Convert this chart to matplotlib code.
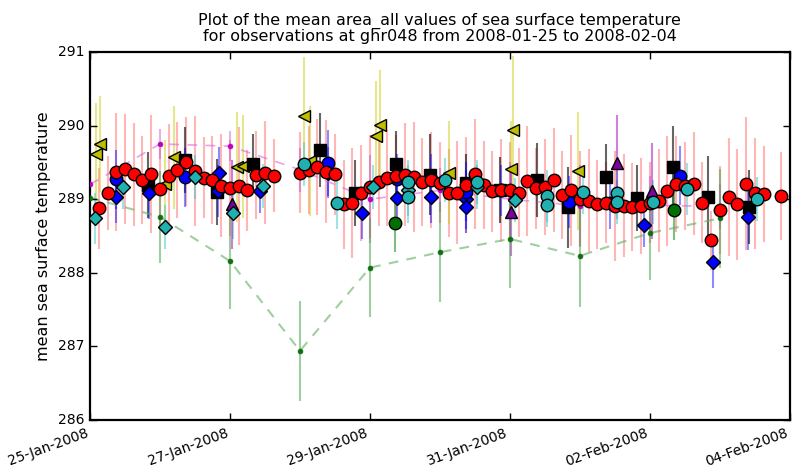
import matplotlib
matplotlib.use('Agg')
import matplotlib.pyplot as plt
import matplotlib.dates as mdates
from datetime import datetime, timedelta

# ---------------- data (hours after 2008-01-25 00:00, temperature K, error) ----------------
red_hours = [3, 6, 9, 12, 15, 18, 21, 24, 27, 30, 33, 36, 39, 42, 45, 48, 51, 54, 57, 60, 63,
             72, 75, 78, 81, 84, 87, 90, 93, 96, 99, 102, 105, 108, 111, 114, 117, 120, 123, 126,
             129, 132, 135, 138, 141, 144, 147, 150, 153, 156, 159, 162, 165, 168, 171, 174, 177,
             180, 183, 186, 189, 192, 195, 198, 201, 204, 207, 210, 213, 216, 219, 222, 225, 228,
             231, 237]
red_temp = [288.88, 289.08, 289.37, 289.41, 289.34, 289.26, 289.34, 289.14, 289.32, 289.40, 289.51,
            289.38, 289.29, 289.26, 289.18, 289.15, 289.18, 289.12, 289.33, 289.36, 289.32,
            289.36, 289.40, 289.44, 289.37, 289.34, 288.93, 288.95, 289.08, 289.17, 289.23, 289.29,
            289.32, 289.33, 289.30, 289.23, 289.26, 289.22, 289.08, 289.09, 289.19, 289.34, 289.19,
            289.11, 289.12, 289.12, 289.09, 289.25, 289.15, 289.17, 289.26, 289.06, 289.12, 289.00,
            288.98, 288.93, 288.95, 288.91, 288.91, 288.89, 288.91, 288.95, 288.98, 289.11, 289.21,
            289.18, 289.21, 288.95, 288.44, 288.85, 289.03, 288.93, 289.21, 289.08, 289.07, 289.04]
red_err = [0.55, 0.50, 0.80, 0.75, 0.70, 0.60, 0.80, 0.55, 0.70, 0.65, 0.60, 0.75, 0.55, 0.60, 0.70,
           0.65, 0.80, 0.55, 0.60, 0.70, 0.50, 0.55, 0.60, 0.65, 0.70, 0.55, 0.60, 0.75, 0.65, 0.70,
           0.60, 0.65, 0.55, 0.70, 0.75, 0.60, 0.65, 0.55, 0.60, 0.70, 0.65, 0.75, 0.60, 0.55, 0.70,
           0.65, 0.60, 0.75, 0.55, 0.65, 0.70, 0.60, 0.75, 0.65, 0.70, 0.60, 0.55, 0.75, 0.70, 0.60,
           0.65, 0.55, 0.70, 0.75, 0.65, 0.60, 0.70, 0.55, 0.40, 0.60, 0.80, 0.75, 0.90, 0.75, 0.65, 0.60]

black_hours = [20, 32.6, 43.5, 56, 79, 91, 105, 116.6, 129, 140.6, 153.3, 164, 177, 187.5, 200, 212, 226]
black_temp = [289.19, 289.53, 289.10, 289.48, 289.67, 289.08, 289.48, 289.33, 289.22, 289.12,
              289.26, 288.89, 289.30, 289.02, 289.44, 289.03, 288.89]
black_err = [0.45, 0.45, 0.45, 0.40, 0.50, 0.45, 0.45, 0.55, 0.40, 0.45, 0.50, 0.55, 0.45, 0.45,
             0.55, 0.55, 0.50]

blue_d_hours = [8.9, 20.2, 44.2, 43.9, 58.3, 81.6, 93.3, 105.3, 116.9, 128.9, 128.9, 190, 213.6, 225.6]
blue_d_temp = [289.03, 289.08, 289.36, 289.11, 289.11, 289.36, 288.81, 289.02, 289.03, 289.00,
               288.89, 288.65, 288.15, 288.76]
blue_d_err = [0.35, 0.35, 0.35, 0.35, 0.30, 0.35, 0.35, 0.30, 0.35, 0.40, 0.35, 0.30, 0.35, 0.45]

blue_c_hours = [8.9, 32.6, 81.6, 105.3, 116.9, 128.9, 140.9, 164.2, 178.3, 202.3]
blue_c_temp = [289.27, 289.30, 289.49, 289.27, 289.27, 289.10, 289.12, 288.96, 288.95, 289.32]
blue_c_err = [0.40, 0.40, 0.45, 0.35, 0.35, 0.40, 0.35, 0.35, 0.35, 0.40]

cyan_d_hours = [1.7, 11.3, 25.7, 36, 49, 59.3, 97, 109, 132.7, 145.7]
cyan_d_temp = [288.74, 289.17, 288.62, 289.30, 288.81, 289.18, 289.17, 289.12, 289.17, 288.99]
cyan_d_err = [0.35, 0.30, 0.30, 0.30, 0.35, 0.30, 0.30, 0.35, 0.30, 0.30]

cyan_c_hours = [73.4, 84.7, 109, 109, 121.7, 132.7, 156.7, 156.7, 169, 180.7, 180.7, 193, 204.7, 228.7]
cyan_c_temp = [289.48, 288.95, 289.23, 289.03, 289.26, 289.23, 289.04, 288.92, 289.10, 289.08,
               288.96, 288.96, 289.14, 289.00]
cyan_c_err = [0.30, 0.35, 0.30, 0.35, 0.30, 0.30, 0.35, 0.30, 0.30, 0.35, 0.30, 0.30, 0.35, 0.30]

yellow_hours = [2.1, 3.4, 25.7, 28.8, 50.4, 52.5, 73.4, 75.4, 98.1, 99.4, 123.1, 144.4, 145, 167.3]
yellow_temp = [289.61, 289.75, 289.21, 289.57, 289.44, 289.45, 290.13, 289.52, 289.86, 290.01,
               289.36, 289.41, 289.94, 289.38]
yellow_err = [0.70, 0.65, 0.60, 0.70, 0.75, 0.70, 0.80, 0.75, 0.75, 0.75, 0.70, 0.65, 1.00, 0.80]

purple_hours = [48.7, 144.4, 180.7, 192.7]
purple_temp = [288.93, 288.83, 289.49, 289.11]
purple_err = [0.60, 0.60, 0.65, 0.65]

dkgreen_hours = [104.6, 200.2]
dkgreen_temp = [288.68, 288.85]
dkgreen_err = [0.40, 0.40]

green_hours = [0, 24, 48, 72, 96, 120, 144, 168, 192, 216]
green_temp = [289.02, 288.76, 288.16, 286.94, 288.07, 288.28, 288.46, 288.23, 288.54, 288.74]
green_err = [0.35, 0.62, 0.65, 0.68, 0.67, 0.68, 0.67, 0.70, 0.64, 0.67]

magenta_hours = [0, 24, 48, 72, 96, 120, 144, 168, 192, 216]
magenta_temp = [289.20, 289.75, 289.72, 289.40, 289.00, 289.12, 289.00, 288.91, 288.92, 288.90]
magenta_err = [0.25, 0.20, 0.20, 0.30, 0.60, 0.30, 0.50, 0.55, 0.40, 0.30]

tick_labels = ['25-Jan-2008', '27-Jan-2008', '29-Jan-2008', '31-Jan-2008', '02-Feb-2008', '04-Feb-2008']
y_ticks = [286, 287, 288, 289, 290, 291]

TITLE = ('Plot of the mean area_all values of sea surface temperature\n'
         'for observations at ghr048 from 2008-01-25 to 2008-02-04')

# ---------------- drawing ----------------
plt.style.use('classic')
plt.rcParams['font.family'] = ['DejaVu Sans']

START = datetime(2008, 1, 25)


def t(hours):
    return [START + timedelta(hours=h) for h in hours]


fig = plt.figure(figsize=(7.93, 4.72), dpi=100)
fig.patch.set_facecolor('white')
ax = fig.add_axes([0.1135, 0.110, 0.8825, 0.780])


def bars(hours, temps, errs, color, alpha, lw=1.5, z=1):
    ax.errorbar(t(hours), temps, yerr=errs, fmt='none', ecolor=color, alpha=alpha,
                elinewidth=lw, capsize=0, zorder=z)


def marks(hours, temps, marker, color, ms, z):
    ax.plot(t(hours), temps, linestyle='none', marker=marker, mfc=color, mec='k',
            ms=ms, mew=1.0, zorder=z)


# error bars
bars(red_hours, red_temp, red_err, '#ff3030', 0.35, lw=1.5)
bars(yellow_hours, yellow_temp, yellow_err, '#c8c800', 0.45)
bars(black_hours, black_temp, black_err, '#000000', 0.6)
bars(blue_d_hours, blue_d_temp, blue_d_err, '#0000ff', 0.45)
bars(blue_c_hours, blue_c_temp, blue_c_err, '#0000ff', 0.45)
bars(cyan_d_hours, cyan_d_temp, cyan_d_err, '#30c0c0', 0.45)
bars(cyan_c_hours, cyan_c_temp, cyan_c_err, '#30c0c0', 0.45)
bars(purple_hours, purple_temp, purple_err, '#a000c0', 0.5)
bars(magenta_hours, magenta_temp, magenta_err, '#c040c0', 0.4)
bars(dkgreen_hours, dkgreen_temp, dkgreen_err, '#008000', 0.5)
bars(green_hours, green_temp, green_err, '#40a040', 0.5)

# dashed lines
ax.plot(t(green_hours), green_temp, linestyle='--', dashes=(7, 6), color='#60b060', alpha=0.6,
        lw=1.5, zorder=2)
ax.plot(t(green_hours), green_temp, linestyle='none', marker='o', ms=3.5, mfc='#107010',
        mec='#107010', zorder=3)
ax.plot(t(magenta_hours), magenta_temp, linestyle='--', dashes=(7, 6), color='#e060e0', alpha=0.6,
        lw=1.2, zorder=2)
ax.plot(t(magenta_hours), magenta_temp, linestyle='none', marker='o', ms=3.5, mfc='#c000c0',
        mec='#c000c0', zorder=3)

# markers
marks(yellow_hours, yellow_temp, '<', '#bfbf00', 9, 4)
marks(purple_hours, purple_temp, '^', '#8000a0', 9, 4)
marks(dkgreen_hours, dkgreen_temp, 'o', '#007000', 9, 4)
marks(black_hours, black_temp, 's', '#000000', 9, 5)
marks(blue_d_hours, blue_d_temp, 'D', '#0000ff', 7.5, 5)
marks(blue_c_hours, blue_c_temp, 'o', '#0000ff', 9, 5)
marks(red_hours, red_temp, 'o', '#ff0000', 9, 6)
marks(cyan_d_hours, cyan_d_temp, 'D', '#20b0b0', 7.5, 7)
marks(cyan_c_hours, cyan_c_temp, 'o', '#20b0b0', 9, 7)

# axes formatting
ax.set_xlim(START, START + timedelta(days=10))
ax.set_ylim(286, 291)
ax.set_yticks(y_ticks)
ax.set_yticklabels([str(v) for v in y_ticks], fontsize=10)
tick_dates = [datetime.strptime(s, '%d-%b-%Y') for s in tick_labels]
ax.set_xticks(tick_dates)
ax.set_xticklabels(tick_labels, fontsize=10, rotation=20, ha='right')
ax.tick_params(axis='both', direction='in', length=5, width=1)
for sp in ax.spines.values():
    sp.set_linewidth(1.6)
ax.set_ylabel('mean sea surface temperature', fontsize=11.5)
ax.set_title(TITLE, fontsize=11.5, linespacing=1.0, pad=8)
ax.grid(False)

fig.savefig('out.png', dpi=100, facecolor='white')
